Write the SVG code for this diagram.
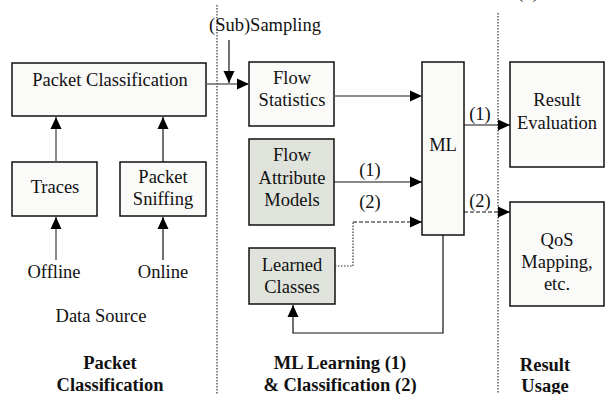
<svg xmlns="http://www.w3.org/2000/svg" width="605" height="394" viewBox="0 0 605 394">
<style>
text{font-family:"Liberation Serif","Times New Roman",serif;font-size:18.5px;fill:#111;text-anchor:middle}
.b{font-weight:bold}
.box{fill:#fafaf8;stroke:#111;stroke-width:1.5}
.g{fill:#dfe3dc;stroke:#111;stroke-width:1.5}
.ln{fill:none;stroke:#111;stroke-width:1.2}
.gl{fill:none;stroke:#666;stroke-width:1.5}
.dash{fill:none;stroke:#111;stroke-width:1.2;stroke-dasharray:4,2}
.dot{fill:none;stroke:#333;stroke-width:1.2;stroke-dasharray:1.5,1.5}
.sep{fill:none;stroke:#333;stroke-width:1.2;stroke-dasharray:1.5,1.5}
</style>
<defs>
<marker id="ah" markerWidth="12" markerHeight="12" refX="12" refY="6" orient="auto" markerUnits="userSpaceOnUse">
<path d="M0,0.5 L12,6 L0,11.5 z" fill="#000"/>
</marker>
</defs>
<g id="separators">
<line class="sep" x1="217" y1="5" x2="217" y2="394"/>
<line class="sep" x1="498" y1="13" x2="498" y2="394"/>
</g>
<g id="packet-classification"><rect class="box" x="12" y="63" width="194" height="53"/><text x="110" y="86">Packet Classification</text></g>
<g id="traces"><rect class="box" x="12" y="162" width="85" height="54"/><text x="55" y="193">Traces</text></g>
<g id="packet-sniffing"><rect class="box" x="120" y="162" width="86" height="54"/><text x="163" y="183">Packet</text><text x="163" y="205">Sniffing</text></g>
<g id="offline"><text x="54" y="278">Offline</text></g>
<g id="online"><text x="163" y="278">Online</text></g>
<g id="data-source"><text x="101" y="322">Data Source</text></g>
<g id="title-packet"><text class="b" x="110" y="369">Packet</text><text class="b" x="110" y="391">Classification</text></g>
<g id="sampling"><text x="265" y="31">(Sub)Sampling</text></g>
<g id="flow-statistics"><rect class="box" x="249" y="62" width="85" height="64"/><text x="292" y="84">Flow</text><text x="292" y="106">Statistics</text></g>
<g id="flow-attribute-models"><rect class="g" x="249" y="139" width="85" height="86"/><text x="292" y="161">Flow</text><text x="292" y="184">Attribute</text><text x="292" y="206">Models</text></g>
<g id="learned-classes"><rect class="g" x="249" y="248" width="86" height="56"/><text x="292" y="271">Learned</text><text x="292" y="293">Classes</text></g>
<g id="ml"><rect class="box" x="422" y="62" width="42" height="173"/><text x="443" y="151">ML</text></g>
<g id="title-ml"><text class="b" x="340" y="369">ML Learning (1)</text><text class="b" x="340" y="391">&amp; Classification (2)</text></g>
<g id="result-evaluation"><rect class="box" x="510" y="62" width="94" height="105"/><text x="557" y="106">Result</text><text x="557" y="129">Evaluation</text></g>
<g id="qos-mapping"><rect class="box" x="510" y="202" width="94" height="104"/><text x="557" y="246">QoS</text><text x="557" y="268">Mapping,</text><text x="557" y="290">etc.</text></g>
<g id="title-result"><text class="b" x="545" y="371">Result</text><text class="b" x="545" y="392">Usage</text></g>
<g id="top-label"><text x="528" y="-2">(1)</text></g>
<g id="connectors">
<line class="gl" x1="56" y1="162" x2="56" y2="117" marker-end="url(#ah)"/>
<line class="ln" x1="163" y1="162" x2="163" y2="117" marker-end="url(#ah)"/>
<line class="gl" x1="56" y1="260" x2="56" y2="217" marker-end="url(#ah)"/>
<line class="ln" x1="163" y1="260" x2="163" y2="217" marker-end="url(#ah)"/>
<line class="gl" x1="206" y1="84" x2="249" y2="84" marker-end="url(#ah)"/>
<line class="ln" x1="229" y1="40" x2="229" y2="83" marker-end="url(#ah)"/>
<line class="gl" x1="334" y1="96" x2="422" y2="96" marker-end="url(#ah)"/>
<line class="ln" x1="334" y1="182" x2="422" y2="182" marker-end="url(#ah)"/>
<text x="370" y="176">(1)</text>
<text x="370" y="208">(2)</text>
<polyline class="dot" points="335,266 353,266 353,222"/>
<line class="dash" x1="353" y1="222" x2="422" y2="222" marker-end="url(#ah)"/>
<polyline class="ln" points="443,235 443,333 293,333 293,305" marker-end="url(#ah)"/>
<line class="ln" x1="464" y1="125" x2="510" y2="125" marker-end="url(#ah)"/>
<text x="480" y="120">(1)</text>
<line class="dash" x1="464" y1="212" x2="510" y2="212" marker-end="url(#ah)"/>
<text x="480" y="207">(2)</text>
</g>
</svg>
